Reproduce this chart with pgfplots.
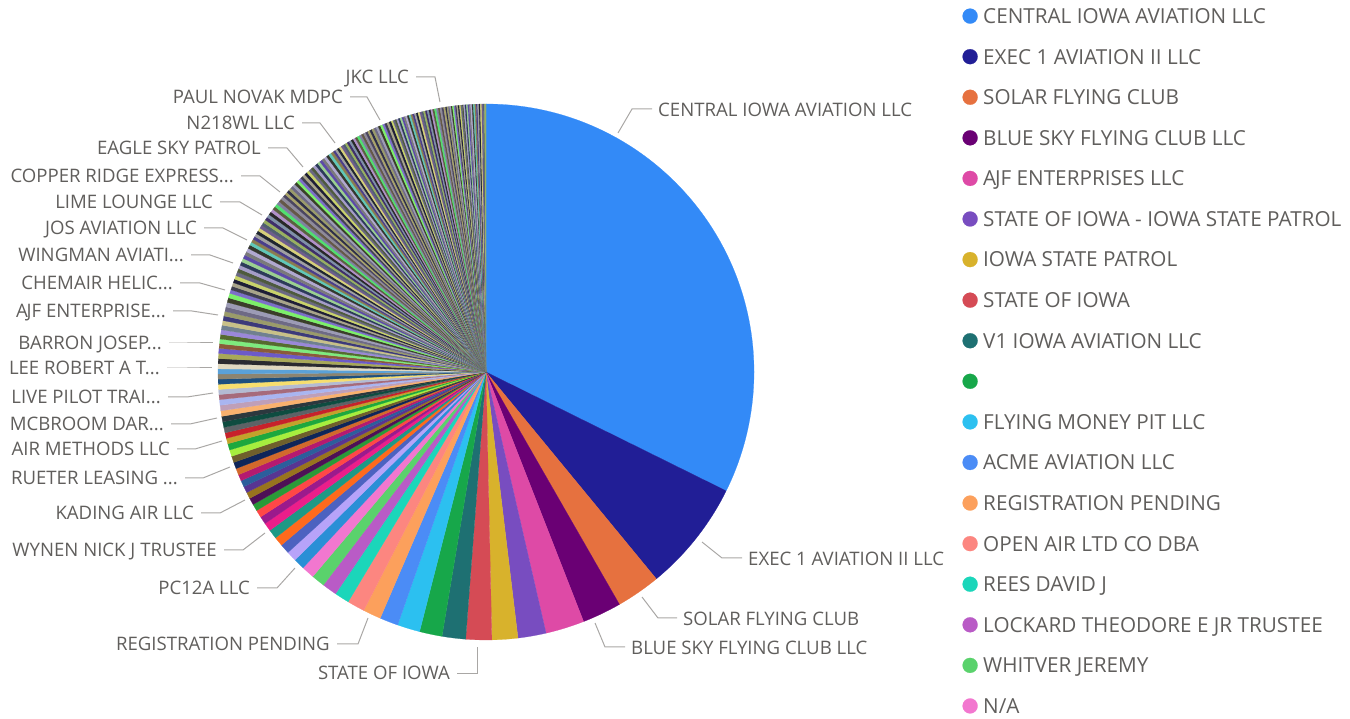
\documentclass[border=0pt]{standalone}
\usepackage{pgfplots}
\pgfplotsset{compat=1.18}
\usepackage{pgfplotstable}
\usepackage{fontspec}
\setmainfont{Open Sans}

\definecolor{txt}{HTML}{605E5C}
\definecolor{lead}{HTML}{A9A7A5}
% colours of the named slices (legend order)
\definecolor{pc0}{HTML}{338AF7}
\definecolor{pc1}{HTML}{211E96}
\definecolor{pc2}{HTML}{E6713F}
\definecolor{pc3}{HTML}{6A0074}
\definecolor{pc4}{HTML}{DE4AA6}
\definecolor{pc5}{HTML}{784DC0}
\definecolor{pc6}{HTML}{D8B22C}
\definecolor{pc7}{HTML}{D54B55}
\definecolor{pc8}{HTML}{1E7072}
\definecolor{pc9}{HTML}{17A74A}
\definecolor{pc10}{HTML}{2CC0F0}
\definecolor{pc11}{HTML}{4B8CF6}
\definecolor{pc12}{HTML}{FCA05C}
\definecolor{pc13}{HTML}{FC8680}
\definecolor{pc14}{HTML}{1BD6BA}
\definecolor{pc15}{HTML}{B95BC6}
\definecolor{pc16}{HTML}{5AD26C}
\definecolor{pc17}{HTML}{F277CF}
% colours of the long tail: first the strong ones, then the muted ones used in turn
\foreach \c [count=\k from 0] in {2A8FD6,B7A3F9,4C62C0,FF6A1C,1E9985,EB1E8A,9B1A8C,FF4747,2A9A38,4E1056,98741E,583592,2C5E9C,B51A70,D2692C,0F2559,6F5F2C,A6EE3E,1EA83E,C3A22B,C7222B,5D6266,0E4C40,2C383E,F9B16E,BF9FB8,A9B5F0,A66B7B,B3BBD3,F6DE6E,1D4F7E,8C8470,5AA1D8,E0D8C0,2A2A30,A8A858,6C5AC8,8A5A3A,7EEA7E,556B2F,9A88D8,708090,C8C088,3D3A7A}{\xglobal\definecolor{tc\k}{HTML}{\c}}
\foreach \c [count=\k from 0] in {8E8A9A,4B4660,A9A36B,2E2F48,9A9B6A,6E6A85,9C9BB5,3A3E2A,7CF06A,7C6FC8,404050,A8A48A,1E1E36,C8D26A,6A6882,4E5A3E,A49CC8,2C3A5A,9AD090,5C4AA8,7A7A7A,B0A8D0,34382E,60C8B8,8A7C50,4A3E8A,A0A0A0,1F2530,D6D07A,6E5C8E,505E70,98B060,3E2F6A,7F90A8,282828,B090C8,5A6040,50E070,8080A0,645848}{\xglobal\definecolor{mc\k}{HTML}{\c}}

% share of each owner, in tenths of a degree of the pie
\pgfplotstableread[col sep=comma]{
name,v
CENTRAL IOWA AVIATION LLC,1163
EXEC 1 AVIATION II LLC,242
SOLAR FLYING CLUB,96
BLUE SKY FLYING CLUB LLC,85
A\kern-1.2pt JF ENTERPRISES LLC,84
STATE OF IOWA - IOWA STATE PATROL,61
IOWA STATE PATROL,56
STATE OF IOWA,56
V1 IOWA AVIATION LLC,51
{},49
FLYING MONEY PIT LLC,49
ACME AVIATION LLC,40
REGISTRATION PENDING,39
OPEN AIR LTD CO DBA,38
REES DAVID J,32
LOCKARD THEODORE E JR TRUSTEE,32
WHITVER JEREMY,29
N/A,28
}\main

\pgfplotstableread[row sep=\\]{
v\\
24\\22\\21\\20\\20\\18\\17\\16\\15\\15\\
14\\14\\14\\14\\14\\14\\14\\14\\14\\
12\\12\\12\\12\\12\\12\\12\\12\\
11\\11\\11\\11\\11\\11\\11\\11\\11\\11\\
10\\10\\10\\10\\10\\10\\10\\10\\10\\10\\10\\10\\
8\\8\\8\\8\\8\\8\\8\\8\\8\\8\\8\\8\\8\\8\\
7\\7\\7\\7\\7\\7\\7\\7\\7\\7\\7\\7\\7\\7\\7\\7\\7\\7\\
6\\6\\6\\6\\6\\6\\6\\6\\6\\6\\6\\6\\6\\6\\6\\6\\6\\6\\6\\6\\6\\6\\6\\6\\
5\\5\\5\\5\\5\\5\\5\\5\\5\\5\\5\\5\\5\\5\\5\\5\\5\\5\\5\\5\\5\\5\\5\\5\\5\\5\\5\\5\\
4\\4\\4\\4\\4\\4\\4\\4\\4\\4\\4\\4\\4\\4\\4\\4\\4\\4\\4\\4\\4\\4\\4\\4\\4\\4\\4\\4\\4\\4\\
3\\3\\3\\3\\3\\3\\3\\3\\3\\3\\3\\3\\3\\3\\3\\3\\3\\3\\3\\3\\3\\3\\3\\3\\3\\3\\3\\3\\3\\
}\tail

\def\total{0}
\pgfplotstableforeachcolumnelement{v}\of\main\as\val{\pgfmathparse{\total+\val}\xdef\total{\pgfmathresult}}
\pgfplotstableforeachcolumnelement{v}\of\tail\as\val{\pgfmathparse{\total+\val}\xdef\total{\pgfmathresult}}

% one wedge: value in \val, running sum in \cum, clockwise from 12 o'clock
\newcommand\slice[1]{%
  \pgfmathsetmacro\sa{90-\cum/\total*360}%
  \pgfmathsetmacro\xs{cos(\sa)}\pgfmathsetmacro\ys{sin(\sa)}%
  \pgfmathparse{\cum+\val}\xdef\cum{\pgfmathresult}%
  \pgfmathsetmacro\ea{90-\cum/\total*360}%
  \edef\cmd{\noexpand\addplot[draw=#1, line width=0.2pt, fill=#1] coordinates {(0,0) (\xs,\ys)} arc[start angle=\sa, end angle=\ea, radius=268pt] -- cycle;}%
  \cmd}

\tikzset{
  lab/.style={text=txt, font=\fontsize{18.6}{22}\selectfont, inner sep=0pt, text height=13.3pt, text depth=0pt},
  ld/.style={draw=lead, line width=1pt},
}
\newcommand\leftlabel[6]{\draw[ld] (#2+7,#3) -- (#4,#3) -- (#5,#6); \node[lab, anchor=east] at (#2,#3) {#1};}
\newcommand\rightlabel[6]{\draw[ld] (#2-6,#3) -- (#4,#3) -- (#5,#6); \node[lab, anchor=west] at (#2,#3+1) {#1};}

\begin{document}
\begin{tikzpicture}
\useasboundingbox (0,0) rectangle (1350pt,718pt);
\begin{axis}[
  at={(486pt,346pt)}, anchor=center,
  x=268pt, y=268pt,
  xmin=-1, xmax=1, ymin=-1, ymax=1,
  hide axis, clip=false,
  legend cell align=left,
  legend image code/.code={\fill (0pt,0pt) circle (7.5pt);},
  legend style={at={(1.38899,1.17817)}, anchor=north west, draw=none, fill=none,
    inner sep=0pt, outer sep=0pt, row sep=25.38pt, column sep=5.5pt,
    nodes={inner sep=0pt, text height=14.8pt, text depth=0pt, text=txt,
      font=\fontsize{20.7}{24}\selectfont}},
]
\def\cum{0}
\pgfplotstablegetrowsof{\main}\pgfmathtruncatemacro\nmain{\pgfplotsretval-1}
\pgfplotsforeachungrouped \i in {0,...,\nmain}{%
  \pgfplotstablegetelem{\i}{name}\of\main \let\nm\pgfplotsretval
  \pgfplotstablegetelem{\i}{v}\of\main \let\val\pgfplotsretval
  \slice{pc\i}%
  \edef\cmd{\noexpand\addlegendentry{\nm}}\cmd
}
\pgfplotstablegetrowsof{\tail}\pgfmathtruncatemacro\ntail{\pgfplotsretval-1}
\pgfplotsforeachungrouped \i in {0,...,\ntail}{%
  \pgfplotstablegetelem{\i}{v}\of\tail \let\val\pgfplotsretval
  \ifnum\i<44 \edef\cn{tc\i}\else\pgfmathtruncatemacro\ci{mod(\i,40)}\edef\cn{mc\ci}\fi
  \slice{\cn}%
}
\end{axis}

\begin{scope}[x=1pt, y=-1pt, shift={(0pt,718pt)}]
\rightlabel{CENTRAL IOWA AVIATION LLC}{658}{109}{632}{618}{133}
\rightlabel{EXEC 1 AVIATION II LLC}{748}{558}{722}{702}{542}
\rightlabel{SOLAR FLYING CLUB}{683}{618}{658}{642}{597}
\rightlabel{BLUE SKY FLYING CLUB LLC}{631}{647}{605}{595}{623}
\leftlabel{STATE OF IOWA}{450}{673}{477}{477}{647}
\leftlabel{REGISTRATION PENDING}{330}{644}{358}{368}{618}
\leftlabel{PC12A LLC}{250}{588}{277}{295}{568}
\leftlabel{WYNEN NICK J TRUSTEE}{217}{550}{243}{265}{533}
\leftlabel{KADING AIR LLC}{194}{513}{220}{245}{500}
\leftlabel{RUETER LEASING ...}{178}{478}{203}{230}{467}
\leftlabel{AIR METHODS LLC}{170}{449}{195}{222}{441}
\leftlabel{MCBROOM DAR...}{164}{424}{190}{217}{418}
\leftlabel{LIVE PILOT TRAI...}{161}{397}{187}{213}{393}
\leftlabel{LEE ROBERT A T...}{160}{368}{187}{212}{368}
\leftlabel{BARRON JOSEP...}{162}{343}{187}{213}{343}
\leftlabel{A\kern-1.2pt JF ENTERPRISE...}{166}{311}{192}{218}{315}
\leftlabel{CHEMAIR HELIC...}{173}{283}{200}{225}{290}
\leftlabel{WINGMAN AVIATI...}{184}{255}{210}{233}{263}
\leftlabel{JOS AVIATION LLC}{197}{228}{223}{247}{240}
\leftlabel{LIME LOUNGE LLC}{213}{202}{240}{262}{215}
\leftlabel{COPPER RIDGE EXPRESS...}{234}{176}{260}{280}{192}
\leftlabel{EAGLE SKY PATROL}{261}{148}{287}{303}{167}
\leftlabel{N218WL LLC}{295}{123}{320}{335}{143}
\leftlabel{PAUL NOVAK MDPC}{343}{97}{367}{380}{120}
\leftlabel{JKC LLC}{409}{77}{435}{440}{102}
\end{scope}
\end{tikzpicture}
\end{document}
